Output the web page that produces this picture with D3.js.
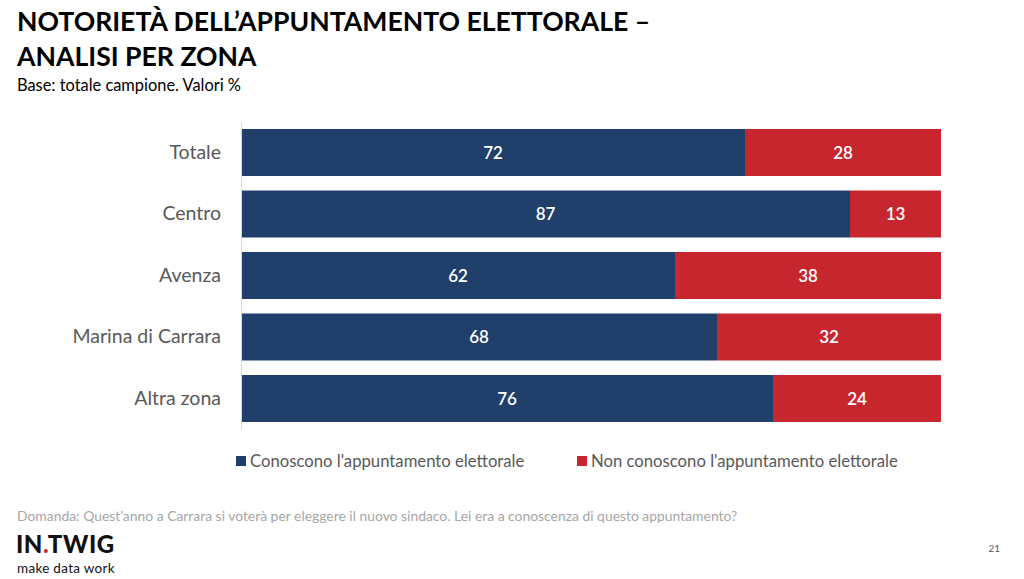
<!DOCTYPE html>
<html><head><meta charset="utf-8">
<script src="https://cdn.jsdelivr.net/npm/d3@7"></script>
<style>body{margin:0;background:#fff}svg{display:block}</style>
</head><body><svg id="c" width="1024" height="579"></svg>
<script>
const categories = ["Totale","Centro","Avenza","Marina di Carrara","Altra zona"];
const conoscono = [72,87,62,68,76];
const nonConoscono = [28,13,38,32,24];
const seriesNames = ["Conoscono l'appuntamento elettorale","Non conoscono l'appuntamento elettorale"];
const colors = ["#203F6A","#C8262F"];

const svg = d3.select("#c");
const F = "Lato, 'Open Sans', sans-serif";
const x = d3.scaleLinear().domain([0,100]).range([241,941]);
const y = d3.scaleBand().domain(categories).range([121.75,429.25]).paddingInner(0.236).paddingOuter(0.118);

// title
svg.append("text").attr("x",17).attr("y",31).attr("font-family",F).attr("font-weight",700).attr("font-size",26.6).attr("fill","#000").text("NOTORIETÀ DELL’APPUNTAMENTO ELETTORALE –");
svg.append("text").attr("x",17).attr("y",66).attr("font-family",F).attr("font-weight",700).attr("font-size",26.6).attr("fill","#000").text("ANALISI PER ZONA");
svg.append("text").attr("x",17).attr("y",91).attr("font-family",F).attr("font-size",16.4).attr("fill","#000").text("Base: totale campione. Valori %");

const data = categories.map((c,i)=>({c, a:conoscono[i], b:nonConoscono[i]}));
const g = svg.append("g");
data.forEach(d=>{
  g.append("rect").attr("x",x(0)).attr("y",y(d.c)).attr("width",x(d.a)-x(0)).attr("height",y.bandwidth()).attr("fill",colors[0]);
  g.append("rect").attr("x",x(d.a)).attr("y",y(d.c)).attr("width",x(d.a+d.b)-x(d.a)).attr("height",y.bandwidth()).attr("fill",colors[1]);
  g.append("text").attr("x",(x(0)+x(d.a))/2).attr("y",y(d.c)+y.bandwidth()/2).attr("dy","0.36em").attr("text-anchor","middle").attr("font-family",F).attr("font-weight",600).attr("font-size",17).attr("fill","#fff").text(d.a);
  g.append("text").attr("x",(x(d.a)+x(d.a+d.b))/2).attr("y",y(d.c)+y.bandwidth()/2).attr("dy","0.36em").attr("text-anchor","middle").attr("font-family",F).attr("font-weight",600).attr("font-size",17).attr("fill","#fff").text(d.b);
});
// y axis
const ax = svg.append("g").attr("transform",`translate(${x(0)},0)`).call(d3.axisLeft(y).tickSize(0).tickPadding(20));
ax.select(".domain").attr("stroke","#d9d9d9");
ax.selectAll("text").attr("font-family",F).attr("font-size",19.5).attr("fill","#595959");

// legend
const leg = [{x:236,t:seriesNames[0],c:colors[0]},{x:577,t:seriesNames[1],c:colors[1]}];
leg.forEach(l=>{
  svg.append("rect").attr("x",l.x).attr("y",456).attr("width",10).attr("height",10).attr("fill",l.c);
  svg.append("text").attr("x",l.x+14).attr("y",467).attr("font-family",F).attr("font-size",16.7).attr("fill","#595959").text(l.t);
});

// footer
svg.append("text").attr("x",17).attr("y",521).attr("font-family",F).attr("font-size",13.9).attr("fill","#a6a6a6").text("Domanda: Quest’anno a Carrara si voterà per eleggere il nuovo sindaco. Lei era a conoscenza di questo appuntamento?");
const logo = svg.append("text").attr("x",16).attr("y",553).attr("font-family",F).attr("font-weight",900).attr("font-size",24).attr("letter-spacing",0.6).attr("fill","#111");
logo.append("tspan").text("IN");
logo.append("tspan").attr("fill","#C8262F").text(".");
logo.append("tspan").text("TWIG");
svg.append("text").attr("x",17).attr("y",573).attr("font-family",F).attr("font-size",13.5).attr("letter-spacing",0.3).attr("fill","#111").text("make data work");
svg.append("text").attr("x",1000).attr("y",552).attr("text-anchor","end").attr("font-family",F).attr("font-size",10).attr("fill","#595959").text("21");
</script></body></html>
